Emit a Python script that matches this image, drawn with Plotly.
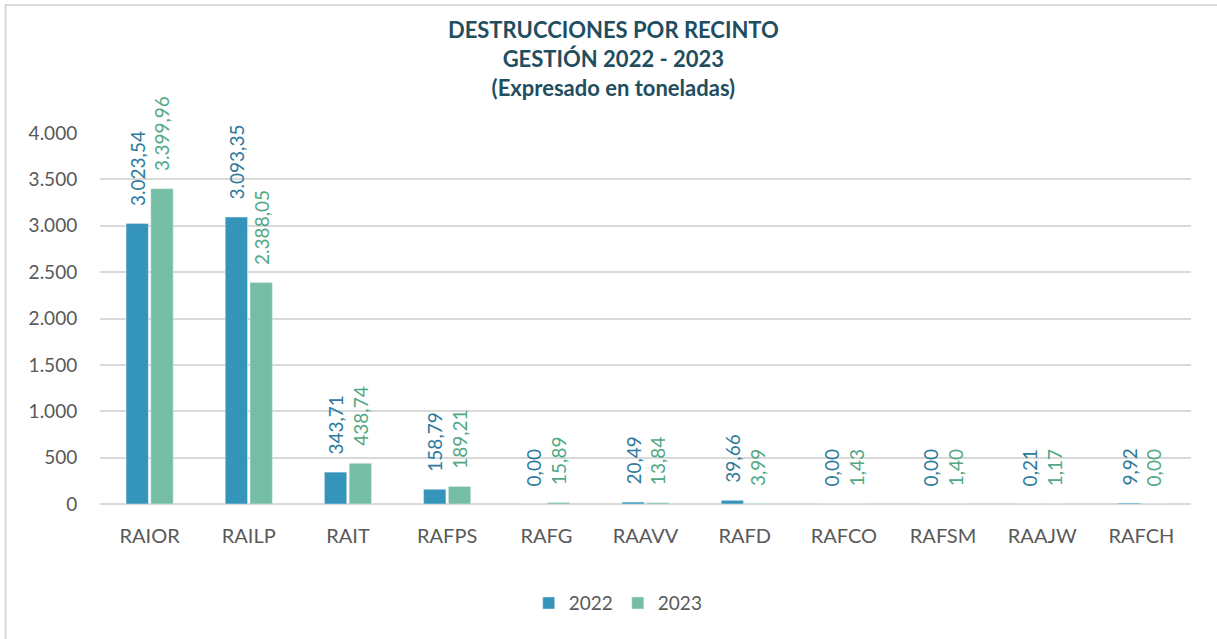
import plotly.graph_objects as go

categories = ["RAIOR", "RAILP", "RAIT", "RAFPS", "RAFG", "RAAVV", "RAFD", "RAFCO", "RAFSM", "RAAJW", "RAFCH"]
values_2022 = [3023.54, 3093.35, 343.71, 158.79, 0.00, 20.49, 39.66, 0.00, 0.00, 0.21, 9.92]
values_2023 = [3399.96, 2388.05, 438.74, 189.21, 15.89, 13.84, 3.99, 1.43, 1.40, 1.17, 0.00]
y_ticks = [0, 500, 1000, 1500, 2000, 2500, 3000, 3500, 4000]

font_family = "Lato, 'Noto Sans', sans-serif"
label_tpl = "\u00a0\u00a0\u00a0%{y:,.2f}"

fig = go.Figure()
fig.add_trace(go.Bar(
    name="2022", x=categories, y=values_2022,
    marker_color="#3594BA",
    texttemplate=label_tpl, textposition="outside", textangle=-90,
    constraintext="none",
    textfont=dict(color="#2E7A9C", size=19, family=font_family),
    cliponaxis=False,
))
fig.add_trace(go.Bar(
    name="2023", x=categories, y=values_2023,
    marker_color="#75BDA5",
    texttemplate=label_tpl, textposition="outside", textangle=-90,
    constraintext="none",
    textfont=dict(color="#52A884", size=19, family=font_family),
    cliponaxis=False,
))

fig.update_layout(
    width=1217, height=639,
    separators=",.",
    paper_bgcolor="white", plot_bgcolor="white",
    margin=dict(l=100, r=26, t=133, b=135, autoexpand=False),
    barmode="group", bargap=0.5, bargroupgap=0.1,
    title=dict(
        text="DESTRUCCIONES POR RECINTO<br>GESTIÓN 2022 - 2023<br>(Expresado en toneladas)",
        x=0.504, xref="container", xanchor="center", y=0.94, yanchor="top",
        font=dict(family=font_family, size=22, color="#1F4E5F", weight="bold"),
    ),
    font=dict(family=font_family, color="#595959"),
    legend=dict(
        orientation="h", x=0.475, xanchor="center", y=-0.216, yanchor="top",
        font=dict(size=19, color="#595959"), itemwidth=30,
    ),
    xaxis=dict(
        tickfont=dict(size=20, color="#595959"), showline=False,
        ticks="outside", ticklen=14, tickcolor="rgba(0,0,0,0)",
    ),
    yaxis=dict(
        range=[0, 4000], tickvals=y_ticks, tickformat=",d",
        tickfont=dict(size=19, color="#595959"),
        showgrid=True, gridcolor="#D9D9D9", gridwidth=2,
        zeroline=True, zerolinecolor="#D9D9D9", zerolinewidth=2,
        ticks="outside", ticklen=18, tickcolor="rgba(0,0,0,0)",
    ),
    shapes=[dict(
        type="rect", xref="paper", yref="paper",
        x0=-0.0866, x1=1.06, y0=-0.6, y1=1.345,
        line=dict(color="#D9D9D9", width=2), fillcolor="rgba(0,0,0,0)", layer="below",
    )],
)

fig.write_html("out.html", config={"displayModeBar": False},
               post_script="document.body.style.margin='0';")
